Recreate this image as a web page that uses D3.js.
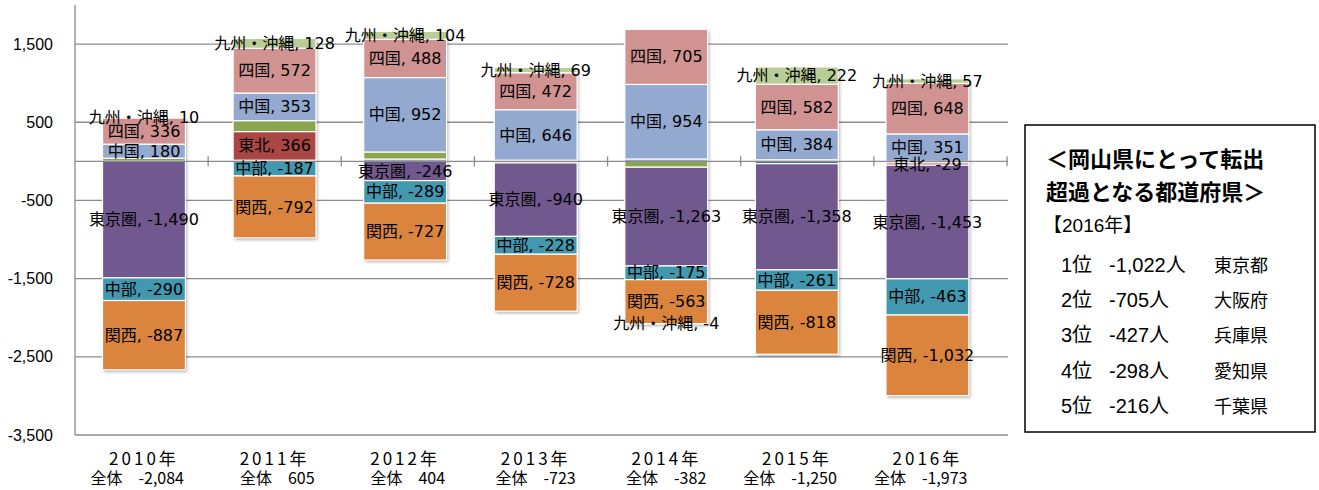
<!DOCTYPE html>
<html lang="ja">
<head>
<meta charset="UTF-8">
<title>岡山県 転入超過・転出超過</title>
<script src="https://d3js.org/d3.v7.min.js"></script>
<style>
  body { margin: 0; background: #fff; }
  svg { display: block; }
  .grid line { stroke: #8c8c8c; stroke-width: 1.3; }
  .ylab { font-family: "Liberation Sans", Arial, sans-serif; font-size: 16px; fill: #000; }
  .seg { stroke: #fff; stroke-width: 1.2; }
  .dlab { font-family: "DejaVu Sans", "Noto Sans CJK JP", sans-serif; font-size: 16px; fill: #000; }
  .xlab { font-family: "Noto Sans CJK JP", sans-serif; fill: #000; }
  .box text { font-family: "Liberation Sans", "Noto Sans CJK JP", sans-serif; fill: #000; }
</style>
</head>
<body>
<svg id="chart" width="1319" height="490"></svg>
<script>
// 年
const years = ["2010年", "2011年", "2012年", "2013年", "2014年", "2015年", "2016年"];
const totals = [-2084, 605, 404, -723, -382, -1250, -1973];

// 地域（系列）
const regions = ["北海道", "東北", "北関東", "東京圏", "中部", "関西", "中国", "四国", "九州・沖縄"];
const hokkaido = [0, 15, 30, 15, 30, -30, -20];
const tohoku = [0, 366, 0, -20, 0, 0, -29];
const kitakanto = [40, 140, 90, 0, -75, 20, 0];
const tokyoken = [-1490, 0, -246, -940, -1263, -1358, -1453];
const chubu = [-290, -187, -289, -228, -175, -261, -463];
const kansai = [-887, -792, -727, -728, -563, -818, -1032];
const chugoku = [180, 353, 952, 646, 954, 384, 351];
const shikoku = [336, 572, 488, 472, 705, 582, 648];
const kyushu = [10, 128, 104, 69, -4, 222, 57];
const seriesValues = [hokkaido, tohoku, kitakanto, tokyoken, chubu, kansai, chugoku, shikoku, kyushu];
const colors = ["#4572A7", "#AA4643", "#89A54E", "#71588F", "#4198AF", "#DB843D", "#93A9CF", "#D19392", "#B9CD96"];

// ラベルを表示する系列（東北は一部の年のみ）
const labelRegions = ["東京圏", "中部", "関西", "中国", "四国", "九州・沖縄"];
const tohokuLabelYears = ["2011年", "2016年"];

const yTicks = [-3500, -2500, -1500, -500, 500, 1500];

// 右の枠
const boxTitle = ["＜岡山県にとって転出", "超過となる都道府県＞"];
const boxYear = "【2016年】";
const ranks = ["1位", "2位", "3位", "4位", "5位"];
const rankValues = [-1022, -705, -427, -298, -216];
const prefs = ["東京都", "大阪府", "兵庫県", "愛知県", "千葉県"];

const svg = d3.select("#chart");
const fmt = d3.formatLocale({ decimal: ".", thousands: ",", grouping: [3], currency: ["", ""], minus: "-" }).format(",");

const plotL = 75, plotR = 1008, plotT = 5, plotB = 435;

const y = d3.scaleLinear().domain([-3500, 2000]).range([plotB, plotT]);
const x = d3.scaleBand().domain(years).range([78.7, 992.7]).paddingInner(0.365).paddingOuter(0.1825);
const tickX = d3.scaleLinear().domain([0, years.length]).range([plotL, plotR - 1]);

// データを行に
const rows = years.map((yr, i) => {
  const r = { year: yr };
  regions.forEach((name, k) => { r[name] = seriesValues[k][i]; });
  return r;
});
const stacked = d3.stack().keys(regions).offset(d3.stackOffsetDiverging)(rows);

// グリッド線
svg.append("g").attr("class", "grid")
  .selectAll("line").data(yTicks).join("line")
  .attr("x1", plotL).attr("x2", plotR)
  .attr("y1", d => y(d)).attr("y2", d => y(d));

svg.append("g").selectAll("text").data(yTicks).join("text")
  .attr("class", "ylab")
  .attr("x", 53).attr("y", d => y(d)).attr("dy", "0.35em")
  .attr("text-anchor", "end")
  .text(d => fmt(d));

// 影
const defs = svg.append("defs");
defs.append("filter").attr("id", "shadow").attr("x", "-10%").attr("y", "-10%").attr("width", "130%").attr("height", "130%")
  .append("feDropShadow").attr("dx", 1.5).attr("dy", 2).attr("stdDeviation", 1.5)
  .attr("flood-color", "#000").attr("flood-opacity", 0.3);

const extents = years.map((yr, i) => {
  const lo = d3.min(stacked, s => s[i][0]);
  const hi = d3.max(stacked, s => s[i][1]);
  return { year: yr, lo: lo, hi: hi };
});
svg.append("g").selectAll("rect").data(extents).join("rect")
  .attr("x", d => x(d.year)).attr("width", x.bandwidth())
  .attr("y", d => y(d.hi)).attr("height", d => y(d.lo) - y(d.hi))
  .attr("fill", "#fff").attr("filter", "url(#shadow)");

// 棒
svg.append("g").selectAll("g").data(stacked).join("g")
  .attr("fill", (d, k) => colors[k])
  .selectAll("rect").data(d => d.filter(p => p[1] !== p[0])).join("rect")
  .attr("class", "seg")
  .attr("x", d => x(d.data.year)).attr("width", x.bandwidth())
  .attr("y", d => y(d[1])).attr("height", d => y(d[0]) - y(d[1]));

// 軸線
svg.append("line").attr("x1", plotL).attr("x2", plotL).attr("y1", plotT).attr("y2", plotB)
  .attr("stroke", "#8c8c8c").attr("stroke-width", 1.3);
svg.append("line").attr("x1", plotL).attr("x2", plotR).attr("y1", y(0)).attr("y2", y(0))
  .attr("stroke", "#8c8c8c").attr("stroke-width", 1.3);
svg.append("g").selectAll("line").data(d3.range(1, years.length + 1)).join("line")
  .attr("x1", d => tickX(d)).attr("x2", d => tickX(d))
  .attr("y1", y(0) - 5).attr("y2", y(0) + 5)
  .attr("stroke", "#8c8c8c").attr("stroke-width", 1.3);

// データラベル
const labels = [];
stacked.forEach(s => {
  s.forEach((p, i) => {
    const v = seriesValues[s.index][i];
    if (v === 0) return;
    const show = labelRegions.includes(s.key) || (s.key === "東北" && tohokuLabelYears.includes(years[i]));
    if (!show) return;
    labels.push({ name: s.key, year: years[i], v: v, mid: (p[0] + p[1]) / 2 });
  });
});
svg.append("g").selectAll("text").data(labels).join("text")
  .attr("class", "dlab")
  .attr("x", d => x(d.year) + x.bandwidth() / 2)
  .attr("y", d => y(d.mid)).attr("dy", "0.35em")
  .attr("text-anchor", "middle")
  .text(d => d.name + ", " + fmt(d.v));

// 横軸ラベル
const xl = svg.append("g").selectAll("g").data(years).join("g")
  .attr("transform", d => `translate(${x(d) + x.bandwidth() / 2},0)`);
xl.append("text").attr("class", "xlab")
  .attr("y", 464.5).attr("text-anchor", "middle")
  .style("font-size", "17px").style("letter-spacing", "3px")
  .text(d => d);
xl.append("text").attr("class", "xlab")
  .attr("x", 40).attr("y", 483.5).attr("text-anchor", "end")
  .style("font-size", "16px")
  .text((d, i) => "全体\u3000" + fmt(totals[i]));

// 右の枠
const box = svg.append("g").attr("class", "box");
box.append("rect").attr("x", 1025).attr("y", 125).attr("width", 290).attr("height", 307)
  .attr("fill", "#fff").attr("stroke", "#000").attr("stroke-width", 1.5);
box.selectAll("text.title").data(boxTitle).join("text").attr("class", "title")
  .attr("x", 1046).attr("y", (d, i) => 167 + i * 33)
  .style("font-family", "'Noto Sans CJK JP', sans-serif")
  .style("font-size", "22px").style("font-weight", "bold")
  .text(d => d);
box.append("text").attr("x", 1043).attr("y", 232).style("font-size", "19px").text(boxYear);
const rankRow = box.selectAll("g.rank").data(ranks).join("g").attr("class", "rank")
  .attr("transform", (d, i) => `translate(0,${272 + i * 35.2})`);
rankRow.append("text").attr("x", 1061).style("font-size", "20px").text(d => d);
rankRow.append("text").attr("x", 1109).style("font-size", "20px").text((d, i) => fmt(rankValues[i]) + "人");
rankRow.append("text").attr("x", 1214).style("font-size", "18px").text((d, i) => prefs[i]);
</script>
</body>
</html>
